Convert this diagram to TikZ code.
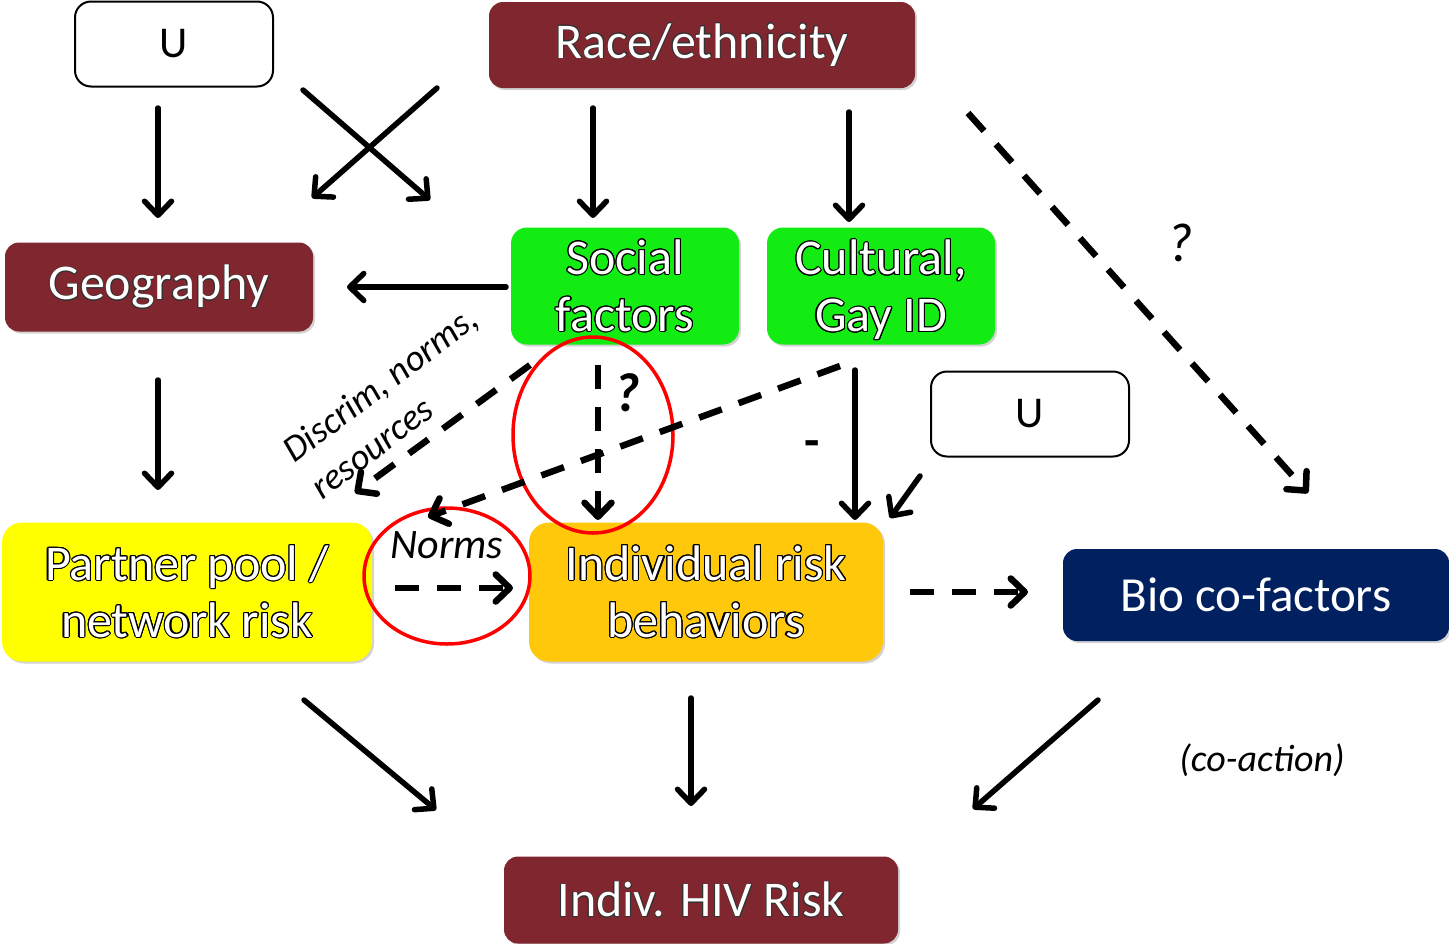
\documentclass[tikz,border=0pt]{standalone}
\usepackage{fontspec}
\setmainfont{Carlito}
\usepackage[copies]{contour}
\usetikzlibrary{arrows.meta,shadows,shapes.geometric}
\definecolor{maroonbox}{RGB}{128,38,46}
\definecolor{greenbox}{RGB}{18,236,18}
\definecolor{yellowbox}{RGB}{255,255,0}
\definecolor{goldbox}{RGB}{255,200,10}
\definecolor{navybox}{RGB}{0,32,96}
\newcommand{\olt}[1]{{\contourlength{1.1pt}\contour{black}{#1}}}
\newcommand{\olm}[1]{{\contourlength{0.5pt}\contour{black!80}{#1}}}
\begin{document}
\begin{tikzpicture}[x=1pt,y=-1pt,
  box/.style={rounded corners=14pt, inner sep=0pt, align=center,
    font=\fontsize{50}{57}\selectfont, text=white},
  shad/.style={drop shadow={shadow xshift=2pt,shadow yshift=-2pt,opacity=0.35}},
  ubox/.style={draw=black, line width=2pt, fill=white, rounded corners=16pt,
    font=\fontsize{44}{50}\selectfont, text=black, inner sep=0pt},
  arr/.style={line width=5.5pt, line cap=round,
    -{Straight Barb[length=14pt,width=27pt,round]}},
  darr/.style={line width=6.5pt, line cap=butt, dash pattern=on 24pt off 18pt,
    -{Straight Barb[length=14pt,width=27pt,round]}},
  ring/.style={draw=red, line width=3.5pt, ellipse, inner sep=0pt},
  lab/.style={font=\itshape\fontsize{38}{45}\selectfont, text=black}
]
\useasboundingbox (0,0) rectangle (1449,943);

% nodes
\node[ubox, minimum width=198pt, minimum height=85pt] (u1) at (174,44) {U};
\node[box, shad, fill=maroonbox, minimum width=426pt, minimum height=86pt] (race) at (702,45) {\olm{Race/ethnicity}};
\node[box, shad, fill=maroonbox, minimum width=308pt, minimum height=89pt] (geo) at (159,287) {\olm{Geography}};
\node[box, shad, fill=greenbox, rounded corners=16pt, minimum width=228pt, minimum height=117pt] (soc) at (625,286) {\olt{Social}\\\olt{factors}};
\node[box, shad, fill=greenbox, rounded corners=16pt, minimum width=228pt, minimum height=117pt, text depth=0pt] (cul) at (881,286) {\olt{Cultural,}\\\olt{Gay ID}};
\node[ubox, minimum width=198pt, minimum height=85pt] (u2) at (1030,414) {U};
\node[box, shad, fill=yellowbox, rounded corners=20pt, minimum width=370pt, minimum height=139pt] (pp) at (187,592) {\olt{Partner pool /}\\\olt{network risk}};
\node[box, shad, fill=goldbox, rounded corners=20pt, minimum width=354pt, minimum height=139pt] (ind) at (706,592) {\olt{Individual risk}\\\olt{behaviors}};
\node[box, shad, fill=navybox, rounded corners=14pt, minimum width=386pt, minimum height=92pt, font=\fontsize{49}{57}\selectfont] (bio) at (1256,595) {Bio co-factors};
\node[box, shad, fill=maroonbox, minimum width=394pt, minimum height=87pt] (hiv) at (701,900) {\olm{Indiv. HIV Risk}};

% red ellipses
\node[ring, minimum width=160pt, minimum height=196pt] (e1) at (593,435) {};
\node[ring, minimum width=166pt, minimum height=136pt] (e2) at (447,576) {};

% labels
\node[lab, font=\itshape\fontsize{55}{60}\selectfont] (q1) at (1180,243) {?};
\node[lab, font=\bfseries\itshape\fontsize{55}{60}\selectfont] (q2) at (627,393) {?};
\node[lab, font=\bfseries\fontsize{50}{55}\selectfont] (minus) at (812,449) {-};
\node[lab, font=\itshape\fontsize{42}{48}\selectfont] (norms) at (447,545) {Norms};
\node[lab] (coact) at (1262,760) {(co-action)};
\node[lab, font=\itshape\fontsize{37}{46}\selectfont, rotate=37, align=left] (discrim) at (394,402) {Discrim, norms,\\resources};

% arrow end coordinates
\coordinate (a1s) at (158,108); \coordinate (a1e) at (158,218);
\coordinate (a2s) at (303,90);  \coordinate (a2e) at (430,200);
\coordinate (a3s) at (437,88);  \coordinate (a3e) at (312,198);
\coordinate (a4s) at (593,108); \coordinate (a4e) at (593,218);
\coordinate (a5s) at (849,112); \coordinate (a5e) at (849,222);
\coordinate (a6s) at (506,287); \coordinate (a6e) at (347,287);
\coordinate (a7s) at (158,380); \coordinate (a7e) at (158,490);
\coordinate (a8s) at (855,370); \coordinate (a8e) at (855,520);
\coordinate (a9s) at (920,476); \coordinate (a9e) at (890,518);
\coordinate (a10s) at (304,700); \coordinate (a10e) at (436,810);
\coordinate (a11s) at (691,698); \coordinate (a11e) at (691,806);
\coordinate (a12s) at (1098,700); \coordinate (a12e) at (973,809);
\coordinate (d1s) at (968,113); \coordinate (d1e) at (1308,493);
\coordinate (d2s) at (530,365); \coordinate (d2e) at (355,493);
\coordinate (d3s) at (598,365); \coordinate (d3e) at (598,520);
\coordinate (d4s) at (840,366); \coordinate (d4e) at (428,517);
\coordinate (d5s) at (395,588); \coordinate (d5e) at (513,588);
\coordinate (d6s) at (910,592); \coordinate (d6e) at (1028,592);

% solid arrows
\draw[arr] (a1s) -- (a1e);
\draw[arr] (a2s) -- (a2e);
\draw[arr] (a3s) -- (a3e);
\draw[arr] (a4s) -- (a4e);
\draw[arr] (a5s) -- (a5e);
\draw[arr] (a6s) -- (a6e);
\draw[arr] (a7s) -- (a7e);
\draw[arr] (a8s) -- (a8e);
\draw[arr] (a9s) -- (a9e);
\draw[arr] (a10s) -- (a10e);
\draw[arr] (a11s) -- (a11e);
\draw[arr] (a12s) -- (a12e);

% dashed arrows
\draw[darr] (d1s) -- (d1e);
\draw[darr] (d2s) -- (d2e);
\draw[darr] (d3s) -- (d3e);
\draw[darr] (d4s) -- (d4e);
\draw[darr] (d5s) -- (d5e);
\draw[darr] (d6s) -- (d6e);
\end{tikzpicture}
\end{document}
